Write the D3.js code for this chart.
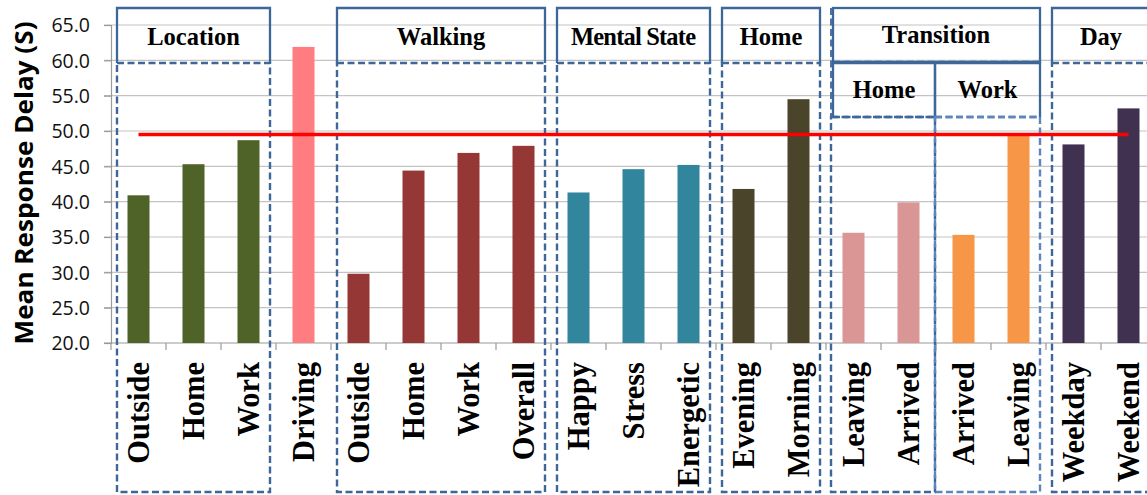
<!DOCTYPE html>
<html>
<head>
<meta charset="utf-8">
<script src="https://cdn.jsdelivr.net/npm/d3@7"></script>
<style>
  html, body { margin: 0; padding: 0; background: #fff; }
  svg { display: block; }
</style>
</head>
<body>
<svg id="chart" width="1147" height="495"></svg>
<script>
// ---- data -------------------------------------------------------------
const categories = ["Outside", "Home", "Work", "Driving",
  "Outside", "Home", "Work", "Overall",
  "Happy", "Stress", "Energetic",
  "Evening", "Morning",
  "Leaving", "Arrived", "Arrived", "Leaving",
  "Weekday", "Weekend"];
const meanDelay = [40.9, 45.3, 48.7, 61.9,
  29.8, 44.4, 46.9, 47.9,
  41.3, 44.6, 45.2,
  41.8, 54.5,
  35.6, 39.9, 35.3, 49.3,
  48.1, 53.2];
const barSeries = ["location", "location", "location", "driving",
  "walking", "walking", "walking", "walking",
  "mental", "mental", "mental",
  "home", "home",
  "transHome", "transHome", "transWork", "transWork",
  "day", "day"];
const overallMean = 49.5;
const yTicks = [20, 25, 30, 35, 40, 45, 50, 55, 60, 65];

// category groups: label, first index, last index
const groupLabels = ["Location", "Walking", "Mental State", "Home", "Transition", "Day"];
const groupRanges = [[0, 2], [4, 7], [8, 10], [11, 12], [13, 16], [17, 18]];
const subGroupLabels = ["Home", "Work"];
const subGroupRanges = [[13, 14], [15, 16]];

// ---- styles -------------------------------------------------------------
const seriesColor = {
  location: "#4f6228", driving: "#ff7c80", walking: "#953735",
  mental: "#31859c", home: "#4a452a", transHome: "#d99694",
  transWork: "#f79646", day: "#403151"
};
const boxColor = "#3d6699";
const gridColor = "#c3c3c3";
const axisColor = "#9a9a9a";

// ---- layout -------------------------------------------------------------
const svg = d3.select("#chart");
const plotLeft = 111, plotRight = 1156, plotTop = 25, plotBottom = 343;

const x = d3.scaleBand()
  .domain(d3.range(categories.length))
  .range([plotLeft, plotRight])
  .paddingInner(0).paddingOuter(0);
const y = d3.scaleLinear().domain([20, 65]).range([plotBottom, plotTop]);

const barWidth = x.bandwidth() * 0.4;

// gridlines
svg.append("g")
  .selectAll("line")
  .data(yTicks.filter(t => t > 20))
  .join("line")
  .attr("x1", plotLeft - 7).attr("x2", plotRight)
  .attr("y1", d => y(d)).attr("y2", d => y(d))
  .attr("stroke", gridColor).attr("stroke-width", 1.2);

// y axis
const yAxis = svg.append("g")
  .attr("transform", `translate(${plotLeft},0)`)
  .call(d3.axisLeft(y).tickValues(yTicks).tickFormat(d3.format(".1f")).tickSize(7).tickPadding(14));
yAxis.select(".domain").attr("stroke", axisColor).attr("stroke-width", 1.2);
yAxis.selectAll(".tick line").attr("stroke", axisColor).attr("stroke-width", 1.2);
yAxis.selectAll(".tick text")
  .attr("font-family", "'Open Sans', sans-serif")
  .attr("font-size", 19.5)
  .attr("fill", "#111")
  .attr("dy", "0.35em");

// x axis with ticks at category boundaries
const xAxisG = svg.append("g").attr("transform", `translate(0,${plotBottom})`);
xAxisG.append("line")
  .attr("x1", plotLeft - 7).attr("x2", plotRight)
  .attr("stroke", axisColor).attr("stroke-width", 1.2);
xAxisG.selectAll("line.tick")
  .data(d3.range(categories.length + 1))
  .join("line")
  .attr("class", "tick")
  .attr("x1", i => plotLeft + i * x.step()).attr("x2", i => plotLeft + i * x.step())
  .attr("y1", 0).attr("y2", 7)
  .attr("stroke", axisColor).attr("stroke-width", 1.2);

// bars
svg.append("g")
  .selectAll("rect")
  .data(meanDelay)
  .join("rect")
  .attr("x", (d, i) => x(i) + (x.bandwidth() - barWidth) / 2)
  .attr("width", barWidth)
  .attr("y", d => y(d))
  .attr("height", d => y(20) - y(d))
  .attr("fill", (d, i) => seriesColor[barSeries[i]]);

// category labels, rotated
svg.append("g")
  .selectAll("text")
  .data(categories)
  .join("text")
  .attr("transform", "rotate(-90)")
  .attr("x", -362)
  .attr("y", (d, i) => x(i) + x.bandwidth() / 2)
  .attr("dy", "0.36em")
  .attr("text-anchor", "end")
  .attr("font-family", "'Liberation Serif', 'Times New Roman', serif")
  .attr("font-weight", "bold")
  .attr("font-size", 30.5)
  .attr("fill", "#000")
  .text(d => d);

// y axis title
svg.append("text")
  .attr("transform", "rotate(-90)")
  .attr("x", -183)
  .attr("y", 33)
  .attr("text-anchor", "middle")
  .attr("font-family", "'Open Sans', sans-serif")
  .attr("font-weight", 700)
  .attr("font-size", 25)
  .attr("textLength", 323)
  .attr("lengthAdjust", "spacingAndGlyphs")
  .attr("fill", "#000")
  .text("Mean Response Delay (S)");

// ---- group boxes --------------------------------------------------------
const boxTop = 8, headerBottom = 63, subBottom = 117, boxBottom = 492;
const inset = 6;
const boxes = svg.append("g").attr("fill", "none").attr("stroke", boxColor);
const dash = "7,3.5";
const solidW = 2.3, dashW = 2.4;

function spanX(r) {
  return [x(r[0]) + inset, x(r[1]) + x.bandwidth() - inset];
}

function headerText(label, cx, baseline, fitWidth) {
  const t = svg.append("text")
    .attr("x", cx).attr("y", baseline)
    .attr("text-anchor", "middle")
    .attr("font-family", "'Liberation Serif', 'Times New Roman', serif")
    .attr("font-weight", "bold")
    .attr("font-size", 24.5)
    .attr("fill", "#000")
    .text(label);
  if (fitWidth) t.attr("textLength", fitWidth).attr("lengthAdjust", "spacing");
}

groupLabels.forEach((label, gi) => {
  const [x0, x1] = spanX(groupRanges[gi]);
  const hasSubs = label === "Transition";
  if (hasSubs) {
    // outer solid header with closed bottom
    boxes.append("rect")
      .attr("x", x0 + 1).attr("y", boxTop).attr("width", x1 - x0 - 1).attr("height", headerBottom - boxTop - 1)
      .attr("stroke-width", solidW);
    boxes.append("line")
      .attr("x1", x0 - 1).attr("x2", x0 - 1).attr("y1", boxTop).attr("y2", subBottom)
      .attr("stroke-width", 1.8).attr("stroke-dasharray", dash);
    boxes.append("line")
      .attr("x1", x0 + 1).attr("x2", x1).attr("y1", headerBottom - 1).attr("y2", headerBottom - 1)
      .attr("stroke-width", dashW).attr("stroke-dasharray", dash);
    subGroupLabels.forEach((sl, si) => {
      const r = subGroupRanges[si];
      const sx0 = si === 0 ? x0 + 1 : x(r[0]) - 1;
      const sx1 = si === 0 ? x(r[1]) + x.bandwidth() - 1 : x1;
      boxes.append("path")
        .attr("d", `M${sx0},${subBottom} V${headerBottom} H${sx1} V${subBottom}`)
        .attr("stroke-width", solidW);
      boxes.append("line")
        .attr("x1", sx0).attr("x2", sx1).attr("y1", subBottom).attr("y2", subBottom)
        .attr("stroke-width", dashW).attr("stroke-dasharray", dash);
      boxes.append("rect")
        .attr("x", si === 0 ? x0 - 1 : sx0).attr("y", subBottom)
        .attr("width", sx1 - (si === 0 ? x0 - 1 : sx0)).attr("height", boxBottom - subBottom)
        .attr("stroke", si === 0 ? boxColor : "#5c86bd")
        .attr("stroke-width", dashW).attr("stroke-dasharray", dash);
      headerText(sl, (sx0 + sx1) / 2, 98);
    });
    headerText(label, (x0 + x1) / 2, 43);
  } else {
    const solidRight = label === "Day" ? x1 + 4 : x1;
    boxes.append("path")
      .attr("d", `M${x0},${headerBottom} V${boxTop} H${solidRight} V${headerBottom}`)
      .attr("stroke-width", solidW);
    boxes.append("rect")
      .attr("x", x0).attr("y", headerBottom)
      .attr("width", x1 - x0).attr("height", boxBottom - headerBottom)
      .attr("stroke-width", dashW).attr("stroke-dasharray", dash);
    headerText(label, (x0 + x1) / 2, 45, label === "Mental State" ? 125 : null);
  }
});

// overall mean reference line across all categories
svg.append("line")
  .attr("x1", x(0) + x.bandwidth() / 2)
  .attr("x2", x(categories.length - 1) + x.bandwidth() / 2)
  .attr("y1", y(overallMean)).attr("y2", y(overallMean))
  .attr("stroke", "#ff0000").attr("stroke-width", 3.5);
</script>
</body>
</html>
